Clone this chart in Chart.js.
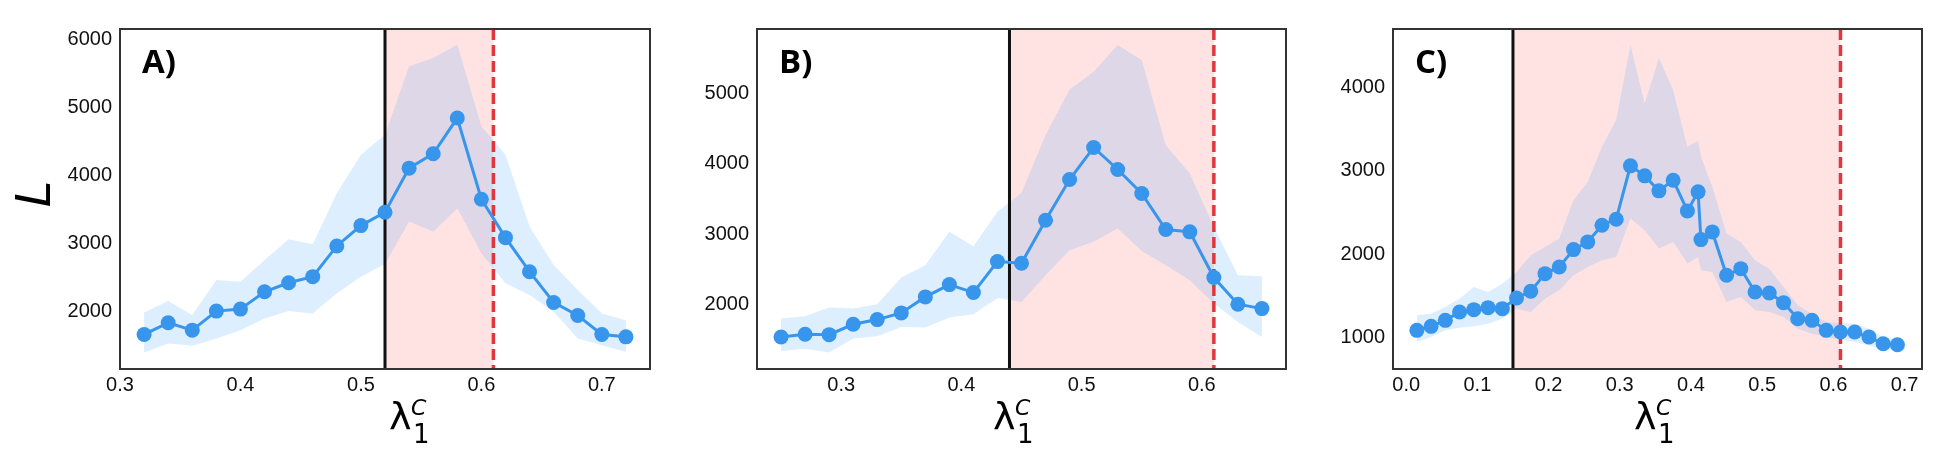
<!DOCTYPE html>
<html>
<head>
<meta charset="utf-8">
<script src="https://cdn.jsdelivr.net/npm/chart.js@4.4.1/dist/chart.umd.min.js"></script>
<style>
  html, body { margin: 0; padding: 0; background: #fff; }
  #wrap { position: relative; width: 1942px; height: 450px; overflow: hidden; }
  #wrap canvas { position: absolute; top: 0; }
</style>
</head>
<body>
<div id="wrap">
  <canvas id="chartA"></canvas>
  <canvas id="chartB"></canvas>
  <canvas id="chartC"></canvas>
</div>
<script>
// panel A
const aX = [0.32, 0.34, 0.36, 0.38, 0.40, 0.42, 0.44, 0.46, 0.48, 0.50, 0.52, 0.54, 0.56, 0.58, 0.60, 0.62, 0.64, 0.66, 0.68, 0.70, 0.72];
const aMean = [1667, 1838, 1730, 2010, 2039, 2294, 2426, 2515, 2966, 3265, 3461, 4108, 4319, 4843, 3652, 3088, 2588, 2137, 1946, 1667, 1632];
const aLow = [1402, 1534, 1500, 1608, 1730, 1902, 2010, 1975, 2270, 2515, 2700, 3324, 3176, 3520, 2858, 2417, 2245, 2000, 1608, 1510, 1412];
const aHigh = [1990, 2157, 1951, 2466, 2441, 2760, 3064, 2990, 3740, 4304, 4598, 5603, 5725, 5921, 4721, 4304, 3250, 2686, 2319, 1975, 1877];
const aCut = [0.52, 0.61];
const aXTicks = [0.3, 0.4, 0.5, 0.6, 0.7];
const aYTicks = [2000, 3000, 4000, 5000, 6000];

// panel B
const bX = [0.25, 0.27, 0.29, 0.31, 0.33, 0.35, 0.37, 0.39, 0.41, 0.43, 0.45, 0.47, 0.49, 0.51, 0.53, 0.55, 0.57, 0.59, 0.61, 0.63, 0.65];
const bMean = [1540, 1578, 1573, 1720, 1787, 1882, 2109, 2284, 2171, 2611, 2588, 3199, 3777, 4232, 3919, 3578, 3066, 3033, 2384, 2005, 1943];
const bLow = [1341, 1374, 1318, 1517, 1550, 1682, 1673, 1815, 1863, 2095, 2038, 2417, 2773, 2891, 3081, 2763, 2559, 2346, 2014, 1754, 1540];
const bHigh = [1801, 1834, 1957, 1943, 2005, 2384, 2559, 3033, 2829, 3318, 3588, 4408, 5057, 5308, 5687, 5474, 4265, 3863, 3104, 2417, 2403];
const bCut = [0.44, 0.61];
const bXTicks = [0.3, 0.4, 0.5, 0.6];
const bYTicks = [2000, 3000, 4000, 5000];

// panel C
const cX = [0.015, 0.035, 0.055, 0.075, 0.095, 0.115, 0.135, 0.155, 0.175, 0.195, 0.215, 0.235, 0.255, 0.275, 0.295, 0.315, 0.335, 0.355, 0.375, 0.395,
  0.41, 0.414, 0.43, 0.45, 0.47, 0.49, 0.51, 0.53, 0.55, 0.57, 0.59, 0.61, 0.63, 0.65, 0.67, 0.69];
const cMean = [1088, 1136, 1208, 1308, 1336, 1360, 1348, 1476, 1556, 1768, 1848, 2056, 2148, 2348, 2420, 3060, 2940, 2760, 2888, 2520,
  2748, 2176, 2268, 1748, 1828, 1548, 1536, 1420, 1228, 1208, 1088, 1068, 1068, 1008, 928, 916];
const cLow = [948, 1008, 1088, 1120, 1136, 1168, 1228, 1348, 1308, 1468, 1568, 1748, 1848, 1928, 1968, 2428, 2288, 2068, 2148, 1888,
  1968, 1808, 1788, 1428, 1488, 1328, 1308, 1248, 1108, 1048, 1016, 976, 948, 908, 868, 840];
const cHigh = [1268, 1288, 1368, 1468, 1608, 1548, 1648, 1788, 1988, 2088, 2188, 2648, 2868, 3288, 3608, 4508, 3808, 4348, 3968, 3288,
  3360, 3168, 2808, 2248, 2148, 1928, 1828, 1608, 1388, 1288, 1188, 1176, 1168, 1108, 1008, 968];
const cCut = [0.15, 0.61];
const cXTicks = [0.0, 0.1, 0.2, 0.3, 0.4, 0.5, 0.6, 0.7];
const cYTicks = [1000, 2000, 3000, 4000];

const BLUE = "#3795ec";
const BAND = "rgba(30,144,255,0.15)";
const SPAN = "rgba(255,0,0,0.11)";
const TICK_FONT = { family: "'Liberation Sans', Arial, sans-serif", size: 20 };

const pts = (xs, ys) => xs.map((x, i) => ({ x: x, y: ys[i] }));

// pink span, the two cut lines, frame and the texts
const decor = {
    id: "decor",
    beforeDatasetsDraw(chart, args, o) {
        const { ctx, chartArea: a, scales: { x } } = chart;
        const x0 = x.getPixelForValue(o.cut[0]);
        const x1 = x.getPixelForValue(o.cut[1]);
        ctx.save();
        ctx.fillStyle = SPAN;
        ctx.fillRect(x0, a.top, x1 - x0, a.bottom - a.top);
        ctx.restore();
    },
    afterDatasetDraw(chart, args, o) {
        if (args.index !== 1) return;
        const { ctx, chartArea: a, scales: { x } } = chart;
        const x0 = x.getPixelForValue(o.cut[0]);
        const x1 = x.getPixelForValue(o.cut[1]);
        ctx.save();
        ctx.strokeStyle = "#111";
        ctx.lineWidth = 3;
        ctx.beginPath();
        ctx.moveTo(x0, a.top);
        ctx.lineTo(x0, a.bottom);
        ctx.stroke();
        ctx.strokeStyle = "#e0363c";
        ctx.lineWidth = 3.5;
        ctx.setLineDash([11, 5]);
        ctx.beginPath();
        ctx.moveTo(x1, a.top);
        ctx.lineTo(x1, a.bottom);
        ctx.stroke();
        ctx.restore();
    },
    afterDraw(chart, args, o) {
        const { ctx, chartArea: a } = chart;
        ctx.save();
        ctx.strokeStyle = "#333";
        ctx.lineWidth = 2;
        ctx.strokeRect(a.left, a.top, a.right - a.left, a.bottom - a.top);

        ctx.fillStyle = "#000";
        ctx.textAlign = "left";
        ctx.textBaseline = "alphabetic";
        ctx.font = "bold 33px 'Open Sans', sans-serif";
        ctx.fillText(o.letter, a.left + 22, a.top + 44);

        // x label: lambda_1^C
        const lx = a.left + o.labelX;
        ctx.font = "38px 'DejaVu Sans', sans-serif";
        ctx.fillText("λ", lx, 429);
        ctx.font = "italic 22px 'DejaVu Sans', sans-serif";
        ctx.fillText("C", lx + 22, 415);
        ctx.font = "26px 'DejaVu Sans', sans-serif";
        ctx.fillText("1", lx + 24, 443);

        if (o.yTitle) {
            ctx.translate(50, 194);
            ctx.rotate(-Math.PI / 2);
            ctx.textAlign = "center";
            ctx.font = "italic 48px 'DejaVu Sans', sans-serif";
            ctx.fillText(o.yTitle, 0, 0);
        }
        ctx.restore();
    },
};

function makePanel(id, p) {
    const canvas = document.getElementById(id);
    canvas.width = p.width;
    canvas.height = 450;
    canvas.style.left = p.left + "px";

    return new Chart(canvas, {
        type: "line",
        data: {
            datasets: [
                {
                    data: pts(p.x, p.low),
                    borderColor: "rgba(0,0,0,0)",
                    backgroundColor: BAND,
                    pointRadius: 0,
                    fill: false,
                },
                {
                    data: pts(p.x, p.high),
                    borderColor: "rgba(0,0,0,0)",
                    backgroundColor: BAND,
                    pointRadius: 0,
                    fill: "-1",
                },
                {
                    data: pts(p.x, p.mean),
                    borderColor: BLUE,
                    backgroundColor: BLUE,
                    pointBackgroundColor: BLUE,
                    pointBorderColor: BLUE,
                    borderWidth: 3,
                    pointRadius: 7.5,
                    pointBorderWidth: 0,
                    tension: 0,
                    fill: false,
                    order: -1,
                },
            ],
        },
        options: {
            responsive: false,
            animation: false,
            events: [],
            layout: {
                padding: { top: 29, right: 10, left: 0, bottom: 0 },
            },
            plugins: {
                legend: { display: false },
                tooltip: { enabled: false },
                decor: { cut: p.cut, letter: p.letter, labelX: p.labelX, yTitle: p.yTitle },
            },
            scales: {
                x: {
                    type: "linear",
                    min: p.xMin,
                    max: p.xMax,
                    grid: { display: false, drawTicks: false },
                    border: { display: false },
                    ticks: {
                        color: "#111",
                        font: TICK_FONT,
                        padding: 4,
                        maxRotation: 0,
                        autoSkip: false,
                        callback: (v) => v.toFixed(1),
                    },
                    afterBuildTicks: (s) => {
                        s.ticks = p.xTicks.map((v) => ({ value: v }));
                    },
                    afterFit: (s) => {
                        s.height = 81;
                    },
                },
                y: {
                    min: p.yMin,
                    max: p.yMax,
                    grid: { display: false, drawTicks: false },
                    border: { display: false },
                    ticks: {
                        color: "#111",
                        font: TICK_FONT,
                        padding: 8,
                        autoSkip: false,
                        callback: (v) => String(v),
                    },
                    afterBuildTicks: (s) => {
                        s.ticks = p.yTicks.map((v) => ({ value: v }));
                    },
                    afterFit: (s) => {
                        s.width = 120;
                    },
                },
            },
        },
        plugins: [decor],
    });
}

makePanel("chartA", {
    left: 0, width: 660,
    x: aX, mean: aMean, low: aLow, high: aHigh, cut: aCut,
    xTicks: aXTicks, yTicks: aYTicks,
    xMin: 0.30, xMax: 0.74, yMin: 1160, yMax: 6150,
    letter: "A)", labelX: 269, yTitle: "L",
});
makePanel("chartB", {
    left: 637, width: 659,
    x: bX, mean: bMean, low: bLow, high: bHigh, cut: bCut,
    xTicks: bXTicks, yTicks: bYTicks,
    xMin: 0.23, xMax: 0.67, yMin: 1085, yMax: 5915,
    letter: "B)", labelX: 236, yTitle: "",
});
makePanel("chartC", {
    left: 1273, width: 659,
    x: cX, mean: cMean, low: cLow, high: cHigh, cut: cCut,
    xTicks: cXTicks, yTicks: cYTicks,
    xMin: -0.0185, xMax: 0.7245, yMin: 625, yMax: 4700,
    letter: "C)", labelX: 241, yTitle: "",
});
</script>
</body>
</html>
